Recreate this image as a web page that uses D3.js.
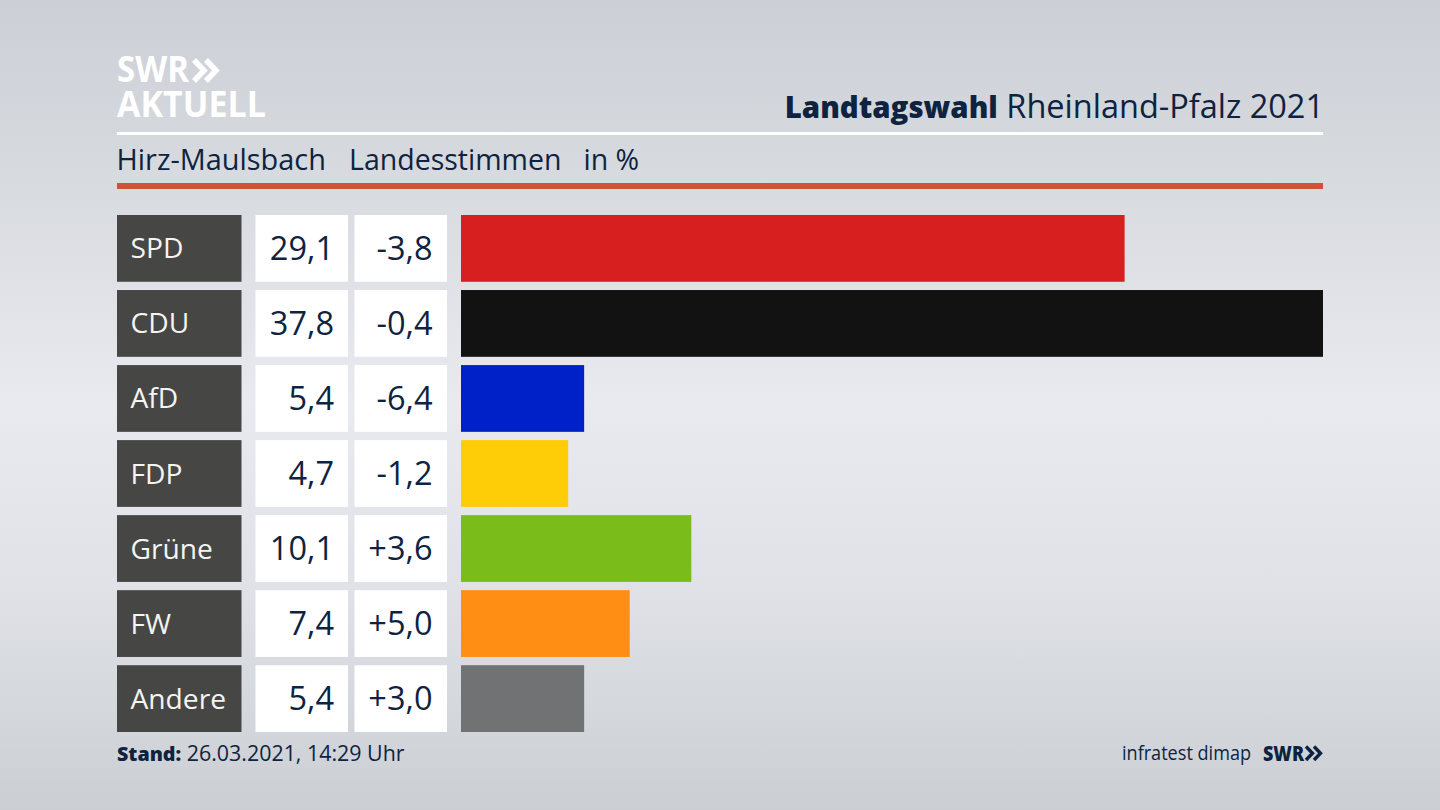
<!DOCTYPE html>
<html><head><meta charset="utf-8">
<script src="https://cdn.jsdelivr.net/npm/d3@7"></script>
<style>html,body{margin:0;padding:0;overflow:hidden;background:#dfe1e7}svg{display:block}text{font-family:"Open Sans","Noto Sans",sans-serif}</style>
</head><body><svg id="c" width="1440" height="810"></svg>
<script>
const parties=["SPD","CDU","AfD","FDP","Grüne","FW","Andere"];
const shares=[29.1,37.8,5.4,4.7,10.1,7.4,5.4];
const shareLabels=["29,1","37,8","5,4","4,7","10,1","7,4","5,4"];
const changeLabels=["-3,8","-0,4","-6,4","-1,2","+3,6","+5,0","+3,0"];
const colors=["#d81f1f","#121212","#0021c8","#ffcd07","#7abd1a","#ff8f14","#717274"];
const ink="#0e2340";
const svg=d3.select("#c");
const defs=svg.append("defs");
const g=defs.append("linearGradient").attr("id","bg").attr("x1",0).attr("x2",0).attr("y1",0).attr("y2",1);
[[0,"#cccfd5"],[.2,"#d6d9de"],[.5,"#e9eaef"],[.72,"#e0e2e7"],[1,"#cbcfd4"]].forEach(d=>g.append("stop").attr("offset",d[0]).attr("stop-color",d[1]));
svg.append("rect").attr("width",1440).attr("height",810).attr("fill","url(#bg)");
const x=d3.scaleLinear().domain([0,37.8]).range([461,1323]);
const y=d3.scaleBand().domain(parties).range([215,732]).paddingInner(0.11).paddingOuter(0);
const rows=svg.selectAll("g.row").data(parties).join("g").attr("class","row");
rows.append("rect").attr("x",117).attr("width",124.5).attr("y",d=>y(d)).attr("height",y.bandwidth()).attr("fill","#464644");
rows.append("rect").attr("x",255.5).attr("width",92.5).attr("y",d=>y(d)).attr("height",y.bandwidth()).attr("fill","#fff");
rows.append("rect").attr("x",354.5).attr("width",92.5).attr("y",d=>y(d)).attr("height",y.bandwidth()).attr("fill","#fff");
rows.append("rect").attr("x",x(0)).attr("y",d=>y(d)).attr("height",y.bandwidth()).attr("width",(d,i)=>x(shares[i])-x(0)).attr("fill",(d,i)=>colors[i]);
const mid=d=>y(d)+y.bandwidth()/2+10;
rows.append("text").attr("x",130.5).attr("y",mid).attr("font-size",28.2).attr("fill","#f4f4f2").text(d=>d);
rows.append("text").attr("x",334).attr("y",d=>mid(d)+1.5).attr("text-anchor","end").attr("font-size",32.5).attr("fill",ink).text((d,i)=>shareLabels[i]);
rows.append("text").attr("x",432.5).attr("y",d=>mid(d)+1.5).attr("text-anchor","end").attr("font-size",32.5).attr("fill",ink).text((d,i)=>changeLabels[i]);
// header
svg.append("rect").attr("x",117).attr("y",132).attr("width",1206).attr("height",3).attr("fill","#fff");
svg.append("rect").attr("x",117).attr("y",183).attr("width",1206).attr("height",6).attr("fill","#cf5238");
const t=svg.append("text").attr("x",1324).attr("y",117.5).attr("text-anchor","end").attr("fill",ink);
t.append("tspan").attr("font-weight",800).attr("font-size",29.4).text("Landtagswahl");
t.append("tspan").attr("font-size",32.5).text(" Rheinland-Pfalz 2021");
[["Hirz-Maulsbach",116.5,28.9],["Landesstimmen",349,28.5],["in %",583.5,28.5]].forEach(d=>svg.append("text").attr("x",d[1]).attr("y",170).attr("font-size",d[2]).attr("fill",ink).text(d[0]));
// logo
const chev=(gr,x0,y0,h,w,step,sw,col)=>[0,step].forEach(o=>gr.append("path").attr("d",`M${x0+o},${y0}L${x0+o+w},${y0+h/2}L${x0+o},${y0+h}`).attr("fill","none").attr("stroke",col).attr("stroke-width",sw));
svg.append("text").attr("x",117).attr("y",82).attr("font-size",35).attr("font-weight",700).attr("fill","#fff").attr("textLength",72).attr("lengthAdjust","spacingAndGlyphs").text("SWR");
svg.append("text").attr("x",117).attr("y",116.5).attr("font-size",35.5).attr("font-weight",700).attr("fill","#fff").attr("textLength",149).attr("lengthAdjust","spacingAndGlyphs").text("AKTUELL");
chev(svg,194,60,21,10,12,5.5,"#fff");
// footer
const f=svg.append("text").attr("x",117).attr("y",761).attr("fill",ink);
f.append("tspan").attr("font-weight",800).attr("font-size",19.7).text("Stand:");
f.append("tspan").attr("font-size",21.4).text(" 26.03.2021, 14:29 Uhr");
svg.append("text").attr("x",1122).attr("y",760).attr("font-size",20).attr("fill",ink).attr("textLength",129).attr("lengthAdjust","spacingAndGlyphs").text("infratest dimap");
svg.append("text").attr("x",1263).attr("y",761).attr("font-size",21).attr("font-weight",800).attr("fill",ink).attr("textLength",41).attr("lengthAdjust","spacingAndGlyphs").text("SWR");
chev(svg,1306,746.5,13.5,6.5,8,3.4,ink);
</script></body></html>
